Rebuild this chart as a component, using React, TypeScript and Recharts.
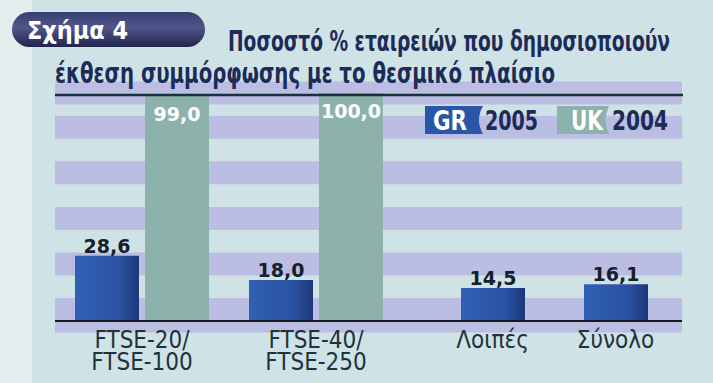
import { BarChart, Bar, XAxis, YAxis, CartesianGrid, LabelList } from "recharts";

const categories = ["FTSE-20/\nFTSE-100", "FTSE-40/\nFTSE-250", "Λοιπές", "Σύνολο"];
const grValues = [28.6, 18.0, 14.5, 16.1];
const ukValues: Array<number | null> = [99.0, 100.0, null, null];
const bandTicks = [5, 25, 45, 65, 85];

const leftData = categories.slice(0, 2).map((name, i) => ({ name, gr: grValues[i], uk: ukValues[i] }));
const rightData = categories.slice(2).map((name, i) => ({ name, gr: grValues[i + 2] }));

const NAVY = "#1c2b58";
const BAND = "#bbbde2";
const BG = "#cfe3e7";
const UK_FILL = "#8db2ac";
const NARROW = "'Liberation Sans Narrow', 'Arial Narrow', 'DejaVu Sans Condensed', sans-serif";
const LABEL_FONT = "'DejaVu Sans', sans-serif";

const fmt = (v: any) => (typeof v === "number" ? v.toFixed(1).replace(".", ",") : "");

const CategoryTick = ({ x, y, payload }: any) => {
  const lines = String(payload.value).split("\n");
  return (
    <text x={x} y={y} textAnchor="middle" fill="#22323a" fontFamily={NARROW} fontSize={24}>
      {lines.map((l, i) => (
        <tspan key={i} x={x} dy={i === 0 ? 27 : 22}>
          {l}
        </tspan>
      ))}
    </text>
  );
};

const Defs = () => (
  <defs>
    <linearGradient id="grFill" x1="0" y1="0" x2="1" y2="0">
      <stop offset="0%" stopColor="#3160b3" />
      <stop offset="70%" stopColor="#2a52a2" />
      <stop offset="100%" stopColor="#1d3677" />
    </linearGradient>
  </defs>
);

const grLabel = { position: "top" as const, offset: 3, fill: "#16202c", fontFamily: LABEL_FONT, fontWeight: 700, fontSize: 19 };

export default function App() {
  return (
    <div style={{ position: "absolute", left: 0, top: 0, width: 713, height: 383, background: BG, overflow: "hidden" }}>
      <div style={{ position: "absolute", left: 0, top: 0, width: 32, height: 383, background: "#e4ecee" }} />
      <div style={{ position: "absolute", left: 0, top: 0 }}>
        <BarChart width={431} height={383} data={leftData} margin={{ top: 93, right: 0, left: 55, bottom: 2 }} barCategoryGap={20} barGap={6}>
          <Defs />
          <CartesianGrid vertical={false} stroke={BAND} strokeWidth={23} />
          <YAxis hide domain={[0, 100]} ticks={bandTicks} />
          <XAxis dataKey="name" height={60} padding={{ left: 0, right: 28 }} interval={0} tickLine={false} tickSize={0} tickMargin={0}
            axisLine={{ stroke: "#151c20", strokeWidth: 2 }} tick={<CategoryTick />} />
          <Bar dataKey="gr" fill="url(#grFill)" isAnimationActive={false}>
            <LabelList dataKey="gr" {...grLabel} formatter={fmt} />
          </Bar>
          <Bar dataKey="uk" fill={UK_FILL} isAnimationActive={false}>
            <LabelList dataKey="uk" position="insideTop" offset={12} fill="#ffffff" fontFamily={LABEL_FONT} fontWeight={700} fontSize={19} formatter={fmt} />
          </Bar>
        </BarChart>
      </div>
      <div style={{ position: "absolute", left: 431, top: 0 }}>
        <BarChart width={282} height={383} data={rightData} margin={{ top: 93, right: 31, left: 0, bottom: 2 }} barSize={64}>
          <Defs />
          <CartesianGrid vertical={false} stroke={BAND} strokeWidth={23} />
          <YAxis hide domain={[0, 100]} ticks={bandTicks} />
          <XAxis dataKey="name" height={60} padding={{ left: 0, right: 5 }} interval={0} tickLine={false} tickSize={0} tickMargin={0}
            axisLine={{ stroke: "#151c20", strokeWidth: 2 }} tick={<CategoryTick />} />
          <Bar dataKey="gr" fill="url(#grFill)" isAnimationActive={false}>
            <LabelList dataKey="gr" {...grLabel} formatter={fmt} />
          </Bar>
        </BarChart>
      </div>
      <svg width={713} height={383} style={{ position: "absolute", left: 0, top: 0, pointerEvents: "none" }}>
        <defs>
          <linearGradient id="badge" x1="0" y1="0" x2="0" y2="1">
            <stop offset="0%" stopColor="#3a3f70" />
            <stop offset="45%" stopColor="#50568a" />
            <stop offset="100%" stopColor="#20244c" />
          </linearGradient>
        </defs>
        <rect x={12} y={12} width={193} height={35} rx={17.5} fill="url(#badge)" />
        <text x={27} y={39} fill="#ffffff" fontFamily={NARROW} fontWeight={700} fontSize={24} textLength={101} lengthAdjust="spacingAndGlyphs">
          Σχήμα 4
        </text>
        <text x={228} y={51} fill={NAVY} fontFamily={NARROW} fontWeight={700} fontSize={28} textLength={442} lengthAdjust="spacingAndGlyphs">
          Ποσοστό % εταιρειών που δημοσιοποιούν
        </text>
        <text x={55} y={83} fill={NAVY} fontFamily={NARROW} fontWeight={700} fontSize={28} textLength={500} lengthAdjust="spacingAndGlyphs">
          έκθεση συμμόρφωσης με το θεσμικό πλαίσιο
        </text>
        <line x1={55} y1={95} x2={683} y2={95} stroke="#17333a" strokeWidth={2.5} />
        <path d="M425 106 H483 Q475 120 483 134 H425 Z" fill="#2b55a6" />
        <text x={433} y={130} fill="#ffffff" fontFamily={NARROW} fontWeight={700} fontSize={26} textLength={34} lengthAdjust="spacingAndGlyphs">GR</text>
        <text x={485} y={130} fill={NAVY} fontFamily={NARROW} fontWeight={700} fontSize={27} textLength={53} lengthAdjust="spacingAndGlyphs">2005</text>
        <path d="M557 106 H609 Q602 120 609 134 H557 Z" fill={UK_FILL} />
        <text x={571} y={130} fill="#ffffff" fontFamily={NARROW} fontWeight={700} fontSize={26} textLength={32} lengthAdjust="spacingAndGlyphs">UK</text>
        <text x={612} y={130} fill={NAVY} fontFamily={NARROW} fontWeight={700} fontSize={27} textLength={56} lengthAdjust="spacingAndGlyphs">2004</text>
      </svg>
    </div>
  );
}
